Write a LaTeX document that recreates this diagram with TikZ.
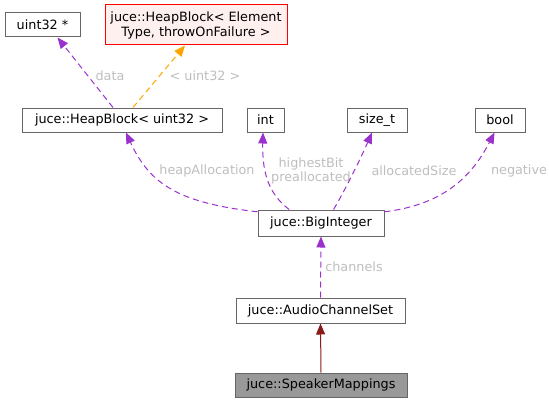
\documentclass[tikz,border=0pt]{standalone}
\usepackage{fontspec}
\setmainfont{DejaVu Sans}
\usetikzlibrary{arrows.meta,calc}
\definecolor{edgepurple}{HTML}{9A32CD}
\definecolor{edgeorange}{HTML}{FFA500}
\definecolor{edgered}{HTML}{8B1A1A}
\definecolor{boxgray}{HTML}{666666}
\definecolor{lblgray}{HTML}{BEBEBE}
\definecolor{tmplred}{HTML}{FF0000}
\definecolor{tmplfill}{HTML}{FFF0F0}
\definecolor{curfill}{HTML}{999999}
\tikzset{
  box/.style={draw=boxgray, fill=white, line width=1pt, inner sep=0pt, font=\fontsize{12.8}{15}\selectfont, align=center},
  tmplbox/.style={box, draw=tmplred, fill=tmplfill},
  curbox/.style={box, fill=curfill},
  member/.style={draw=edgepurple, line width=1pt, dash pattern=on 6pt off 4pt, -{Triangle[length=11pt,width=9pt]}, edgepurple},
  tmplinst/.style={draw=edgeorange, line width=1pt, dash pattern=on 6pt off 4pt, -{Triangle[length=11pt,width=9pt]}, edgeorange},
  inherit/.style={draw=edgered, line width=1pt, -{Triangle[length=11pt,width=9pt]}, edgered},
  lbl/.style={text=lblgray, font=\fontsize{12.8}{14}\selectfont, align=center, inner sep=0pt}
}
\begin{document}
\begin{tikzpicture}[x=1pt,y=-1pt]
\useasboundingbox (0,0) rectangle (549,404);
\node[box, minimum width=75pt, minimum height=24pt] (u32p) at (42.5,25) {uint32 *};
\node[tmplbox, minimum width=182pt, minimum height=40pt] (hbt) at (196,25) {juce::HeapBlock\textless{} Element\\Type, throwOnFailure \textgreater{}};
\node[box, minimum width=200pt, minimum height=24pt] (hb) at (122,120) {juce::HeapBlock\textless{} uint32 \textgreater{}};
\node[box, minimum width=37pt, minimum height=24pt] (int) at (265.5,120) {int};
\node[box, minimum width=60pt, minimum height=24pt] (sz) at (377,120) {size\_t};
\node[box, minimum width=50pt, minimum height=24pt] (bool) at (500,120) {bool};
\node[box, minimum width=126pt, minimum height=26pt] (big) at (321,223) {juce::BigInteger};
\node[box, minimum width=169pt, minimum height=25pt] (acs) at (320.5,310.5) {juce::AudioChannelSet};
\node[curbox, minimum width=172pt, minimum height=24pt] (spk) at (321,385) {juce::SpeakerMappings};

\coordinate (hbtop1) at ($(hb.north)+(-9,0)$);
\coordinate (hbtop2) at ($(hb.north)+(11,0)$);
\coordinate (hbbot) at ($(hb.south)+(4,0)$);
\coordinate (intbot) at ($(int.south)+(-2.5,0)$);
\coordinate (szbot) at ($(sz.south)+(-5,0)$);
\coordinate (boolbot) at ($(bool.south)+(-5.5,0)$);
\coordinate (u32bot) at ($(u32p.south)+(15,0)$);
\coordinate (hbtbot) at ($(hbt.south)+(-11,0)$);

\draw[member] (hbtop1) -- (u32bot);
\node[lbl] (ldata) at (110,76) {data};
\draw[tmplinst] (hbtop2) -- (hbtbot);
\node[lbl] (luint) at (205,76) {\textless{} uint32 \textgreater{}};

\draw[member] (big.170) .. controls (180,203) and (150,185) .. (hbbot);
\node[lbl] (lheap) at (207,171) {heapAllocation};
\draw[member] (big.157) .. controls (270,195) and (262,175) .. (intbot);
\node[lbl] (lhigh) at (311,171) {highestBit\\preallocated};
\draw[member] (big.47) .. controls (345,190) and (360,160) .. (szbot);
\node[lbl] (lalloc) at (414,171) {allocatedSize};
\draw[member] (big.10) .. controls (440,205) and (470,180) .. (boolbot);
\node[lbl] (lneg) at (519,171) {negative};

\draw[member] (acs.north) -- (big.south);
\node[lbl] (lch) at (354,267) {channels};
\draw[inherit] (spk.north) -- (acs.south);
\end{tikzpicture}
\end{document}
